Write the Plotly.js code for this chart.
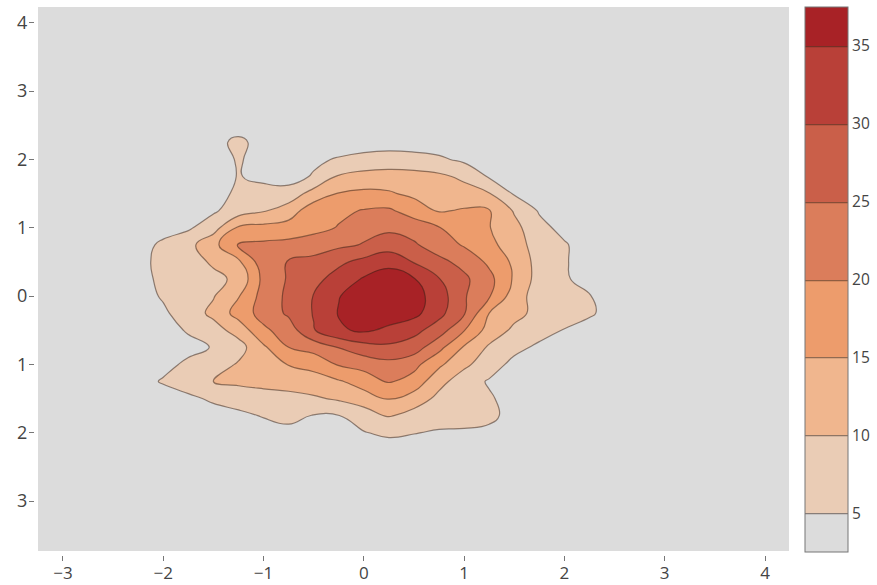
<!DOCTYPE html>
<html>
<head>
<meta charset="utf-8">
<script src="https://cdn.plot.ly/plotly-3.0.1.min.js"></script>
<style>
html,body{margin:0;padding:0;overflow:hidden;background:#fff;width:877px;height:585px;}
#chart{position:absolute;left:0;top:0;width:877px;height:585px;}
</style>
</head>
<body>
<div id="chart"></div>
<script>
// grid centres (density)
const gridX = [-2.5,-2.25,-2,-1.75,-1.5,-1.25,-1,-0.75,-0.5,-0.25,0,0.25,0.5,0.75,1,1.25,1.5,1.75,2,2.25,2.5];
const gridY = [-2.5,-2.25,-2,-1.75,-1.5,-1.25,-1,-0.75,-0.5,-0.25,0,0.25,0.5,0.75,1,1.25,1.5,1.75,2,2.25,2.5];
// outer extent of the binned data region
const extentX = [-3.25, 4.24];
const extentY = [-3.73, 4.23];
// counts, rows ordered by gridY
const counts = [
 [0,0,0,0,0,0,0,1,1,1,1,1,1,1,1,1,0,0,0,0,0],
 [0,0,0,0,1,1,1,2,2,2,2,3,2.5,2,2,2,1,0,0,0,0],
 [0,1,1,1.5,2,2.5,3,4,3.5,3.5,4.8,5.8,5.2,4.5,4.5,4,2,1,1,0,0],
 [0,1,1.5,2,3,4,5.3,6,4.8,4.9,7,10.5,8,7,6.5,6,3.5,1.5,1,0.5,0],
 [0.5,1.5,2.5,4,5.8,7,8,8.5,9.3,10.7,13,15.3,12.8,8.7,7.2,5.6,3,1.5,1,0.5,0],
 [1,3,5.5,7.5,10,11,11.5,12,13,14.5,17,20.5,18,11.5,7.5,4.5,2,1,0.5,0,0],
 [0.5,1.5,3.5,6,7.5,10.5,12.5,15.2,16.5,20.5,22,23.5,21.5,16,11,7.5,3.5,2,1,0.5,0],
 [0.5,1,2,3.5,5.3,8,14.2,20,22,25.2,28,29,27.5,21.5,14.5,9.3,6.5,4,2,1,0.5],
 [1,1.5,3,5.5,8,12,19,22.5,29.7,34.3,35.8,34,31.5,27.5,20.2,13,9,7,4.7,2,1],
 [1,2,4.2,7.5,11.2,17,22,25.8,30.3,35.3,37,37.5,36.5,31.5,25.5,15,11.5,8.5,8,6,2],
 [1.5,3,5.5,7.5,9.7,14.7,22,26,30.2,34.8,37.5,38,37,32.5,25.5,20.5,12.5,7.5,7,5.3,2],
 [1.5,3.5,6,7.5,8.8,11,21.5,25.5,28.5,32,35.5,37.5,35.3,30.2,26,21.5,14.3,8,5.8,2.5,1],
 [1.5,3.5,6.5,8,10.7,14,23,25.3,26.5,29,31.5,33.5,29.7,26.3,23.5,19,14,8,5.5,2.5,1],
 [1,3,6,8.5,13.5,20.3,21,21.5,22.5,24,25.3,27.5,25.6,22.5,19.5,16.3,12.5,7.5,5.5,2.5,1],
 [0.5,1.5,3,4.3,8,15.7,16.5,17,18.5,20.3,23.5,24,23,20.2,18,15.2,11.5,6.5,3.5,1.5,0.5],
 [0,1,2,3,4.3,7.5,9.5,12.5,18,19,20.3,20.8,17.5,14.5,15.5,15.3,9.5,4.5,2,1,0],
 [0,0.5,1,2,4,5.5,6.5,7,12,15.3,16,15.5,14,13,12,10.3,4.5,2,1,0.5,0],
 [0,0,0.5,1.5,3,5.2,4,3,5.5,10.5,12,12.5,12,11,9,4.5,2.5,1,0.5,0,0],
 [0,0,0,1,2.5,5.5,3,2.5,4,5.5,6,6.5,6.5,5.8,4,2.5,1,0.5,0,0,0],
 [0,0,0,1,3,6.5,2.5,1.5,2,2,3.5,3.5,3,2.5,1.5,1,0.5,0,0,0,0],
 [0,0,0,0,1,2,1,0.5,0.5,1,1,1,1,0.5,0.5,0,0,0,0,0,0]
];
const levelStart = 5, levelEnd = 35, levelSize = 5;
const colorbarTicks = [5,10,15,20,25,30,35];
// y tick labels exactly as printed in the reference (signs not shown)
const yTickVals = [-3,-2,-1,0,1,2,3,4];
const yTickText = ['3','2','1','0','1','2','3','4'];

// pad grid to the data extent with empty bins
const xs = [extentX[0]].concat(gridX, [extentX[1]]);
const ys = [extentY[0]].concat(gridY, [extentY[1]]);
const emptyRow = xs.map(() => 0);
const zs = [emptyRow].concat(counts.map(r => [0].concat(r, [0])), [emptyRow]);

const reds = [[0,'rgb(220,220,220)'],[0.2,'rgb(240,197,165)'],[0.4,'rgb(240,162,112)'],[1,'rgb(168,34,38)']];

const trace = {
  type: 'contour',
  x: xs, y: ys, z: zs,
  colorscale: reds,
  autocontour: false,
  contours: {start: levelStart, end: levelEnd, size: levelSize, coloring: 'fill'},
  line: {color: 'rgba(50,30,20,0.5)', width: 1.2, smoothing: 1.3},
  hoverinfo: 'skip',
  colorbar: {
    x: 1.0145, xanchor: 'left', xpad: 0,
    y: 0.0054, yanchor: 'bottom', ypad: 0,
    len: 0.9873, lenmode: 'fraction',
    thickness: 43,
    outlinewidth: 1, outlinecolor: '#777',
    tickvals: colorbarTicks, ticks: '',
    tickfont: {size: 15.5, color: '#444'}
  }
};

const layout = {
  width: 877, height: 585,
  margin: {l: 35, r: 83, t: 3, b: 30, pad: 0},
  paper_bgcolor: '#fff', plot_bgcolor: '#fff',
  font: {family: '"Open Sans", verdana, arial, sans-serif', color: '#444'},
  xaxis: {range: [-3.279, 4.289], showgrid: false, zeroline: false, showline: false,
          ticks: 'outside', ticklen: 5, tickcolor: '#777', dtick: 1, tick0: 0,
          ticklabelstandoff: -2,
          tickfont: {size: 17, color: '#444'}},
  yaxis: {range: [-3.79, 4.29], showgrid: false, zeroline: false, showline: false,
          ticks: 'outside', ticklen: 5, tickcolor: '#777',
          tickmode: 'array', tickvals: yTickVals, ticktext: yTickText,
          ticklabelstandoff: -2,
          tickfont: {size: 18, color: '#444'}},
  showlegend: false
};

Plotly.newPlot('chart', [trace], layout, {displayModeBar: false, staticPlot: true});
</script>
</body>
</html>
